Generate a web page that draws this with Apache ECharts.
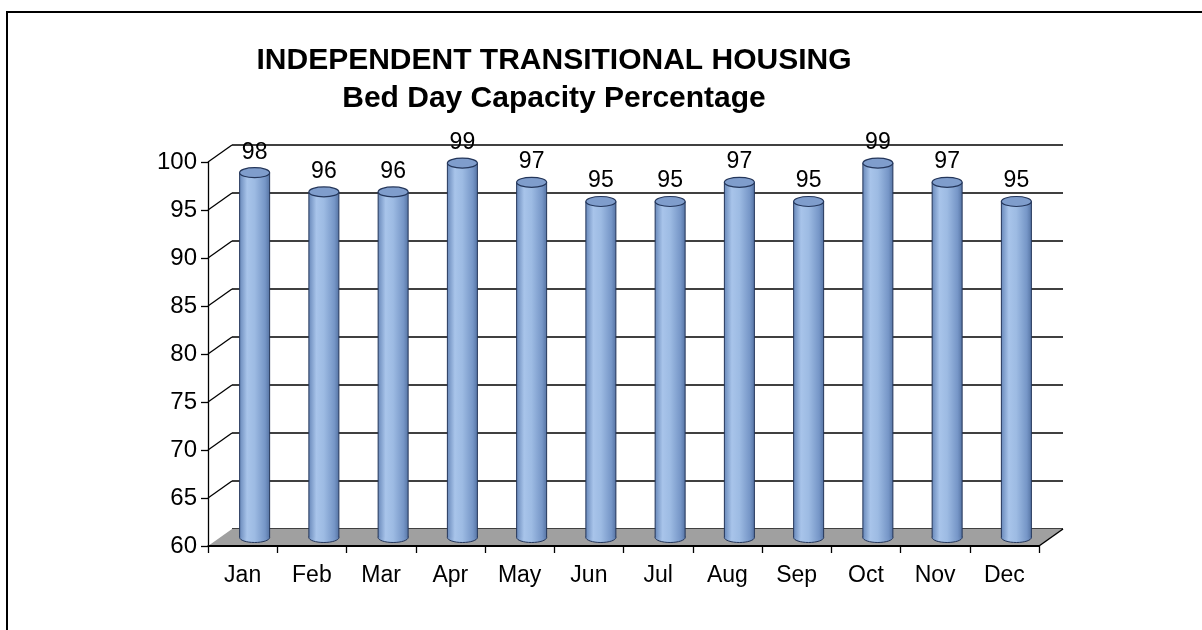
<!DOCTYPE html>
<html>
<head>
<meta charset="utf-8">
<script src="https://cdn.jsdelivr.net/npm/echarts@6/dist/echarts.min.js"></script>
<style>
  html, body { margin: 0; padding: 0; background: #fff; }
  #chart { width: 1202px; height: 630px; }
</style>
</head>
<body>
<div id="chart"></div>
<script>
const months = ["Jan", "Feb", "Mar", "Apr", "May", "Jun", "Jul", "Aug", "Sep", "Oct", "Nov", "Dec"];
const capacity = [98, 96, 96, 99, 97, 95, 95, 97, 95, 99, 97, 95];
const yTicks = [60, 65, 70, 75, 80, 85, 90, 95, 100];

// depth of the fake 3d box, in pixels
const DX = 24;
const DY = -17;
const FONT = "'Liberation Sans', Arial, sans-serif";

const chart = echarts.init(document.getElementById("chart"), null, { renderer: "canvas" });

const bodyFill = {
  type: "linear", x: 0, y: 0, x2: 1, y2: 0,
  colorStops: [
    { offset: 0, color: "#6a8abb" },
    { offset: 0.25, color: "#a8c4ea" },
    { offset: 0.5, color: "#9dbbe3" },
    { offset: 0.85, color: "#7696c7" },
    { offset: 1, color: "#5775a5" },
  ],
};

function renderCylinder(params, api) {
  const idx = api.value(0);
  const v = api.value(1);
  const top = api.coord([idx, v]);
  const base = api.coord([idx, yTicks[0]]);
  const cx = top[0] + DX / 2;
  const ty = top[1] + DY / 2;
  const by = base[1] + DY / 2;
  const rx = 15, ry = 5;
  const edge = "#24365a";
  return {
    type: "group",
    children: [
      { type: "ellipse", shape: { cx, cy: by, rx, ry }, style: { fill: bodyFill, stroke: edge, lineWidth: 1 } },
      { type: "rect", shape: { x: cx - rx, y: ty, width: rx * 2, height: by - ty }, style: { fill: bodyFill } },
      { type: "line", shape: { x1: cx - rx, y1: ty, x2: cx - rx, y2: by }, style: { stroke: edge, lineWidth: 1 } },
      { type: "line", shape: { x1: cx + rx, y1: ty, x2: cx + rx, y2: by }, style: { stroke: edge, lineWidth: 1 } },
      { type: "ellipse", shape: { cx, cy: ty, rx, ry }, style: { fill: "#7f9dcc", stroke: edge, lineWidth: 1.2 } },
      {
        type: "text",
        style: { text: String(v), x: cx, y: ty - 9, align: "center", verticalAlign: "bottom", fontSize: 23, fontFamily: FONT, fill: "#000" },
      },
    ],
  };
}

function renderFloor(params, api) {
  const cs = params.coordSys;
  const y0 = cs.y + cs.height;
  const x0 = cs.x, x1 = cs.x + cs.width;
  return {
    type: "group",
    children: [
      { type: "polygon", shape: { points: [[x0, y0], [x1, y0], [x1 + DX, y0 + DY], [x0 + DX, y0 + DY]] }, style: { fill: "#a0a0a0" } },
      { type: "line", shape: { x1: x1, y1: y0, x2: x1 + DX, y2: y0 + DY }, style: { stroke: "#000", lineWidth: 1.5 } },
      { type: "line", shape: { x1: x0, y1: y0, x2: x1, y2: y0 }, style: { stroke: "#000", lineWidth: 1.8 } },
    ],
  };
}

function renderWallLine(params, api) {
  const x = params.coordSys.x;
  const y = api.coord([0, api.value(1)])[1];
  return { type: "line", shape: { x1: x, y1: y, x2: x + DX, y2: y + DY }, style: { stroke: "#000", lineWidth: 1.3 } };
}

chart.setOption({
  animation: false,
  title: [
    { text: "INDEPENDENT TRANSITIONAL HOUSING", left: 549, top: 41, textAlign: "center", textStyle: { fontFamily: FONT, fontSize: 30, fontWeight: "bold", color: "#000" } },
    { text: "Bed Day Capacity Percentage", left: 549, top: 79, textAlign: "center", textStyle: { fontFamily: FONT, fontSize: 30, fontWeight: "bold", color: "#000" } },
  ],
  graphic: [
    { type: "rect", shape: { x: 7, y: 12, width: 1400, height: 800 }, style: { fill: null, stroke: "#000", lineWidth: 2 }, silent: true },
  ],
  grid: [
    { left: 208, right: 163, top: 162, bottom: 84 },
    { left: 208 + DX, right: 163 - DX, top: 162 + DY, bottom: 84 - DY },
  ],
  xAxis: [
    {
      gridIndex: 0, type: "category", data: months, boundaryGap: true,
      axisLine: { lineStyle: { color: "#000", width: 1.5 } },
      axisTick: { show: true, length: 7, lineStyle: { color: "#000", width: 1.3 } },
      axisLabel: { color: "#000", fontSize: 23, fontFamily: FONT, margin: 18 },
      splitLine: { show: false },
    },
    { gridIndex: 1, type: "category", data: months, show: false },
  ],
  yAxis: [
    {
      gridIndex: 0, type: "value", min: 60, max: 100, interval: 5,
      axisLine: { show: true, lineStyle: { color: "#000", width: 1.3 } },
      axisTick: { show: true, length: 7, lineStyle: { color: "#000", width: 1.3 } },
      axisLabel: { color: "#000", fontSize: 24, fontFamily: FONT, margin: 11 },
      splitLine: { show: false },
    },
    {
      gridIndex: 1, type: "value", min: 60, max: 100, interval: 5,
      axisLine: { show: false }, axisTick: { show: false }, axisLabel: { show: false },
      splitLine: { show: true, lineStyle: { color: "#000", width: 1.5 } },
    },
  ],
  series: [
    {
      type: "custom", xAxisIndex: 0, yAxisIndex: 0, z: 2,
      data: yTicks.slice(1).map((t) => [0, t]),
      renderItem: renderWallLine, silent: true,
    },
    {
      type: "custom", xAxisIndex: 0, yAxisIndex: 0, z: 3,
      data: [[0, yTicks[0]]],
      renderItem: renderFloor, silent: true,
    },
    {
      type: "custom", xAxisIndex: 0, yAxisIndex: 0, z: 5,
      data: capacity.map((v, i) => [i, v]),
      renderItem: renderCylinder,
    },
  ],
});
</script>
</body>
</html>
